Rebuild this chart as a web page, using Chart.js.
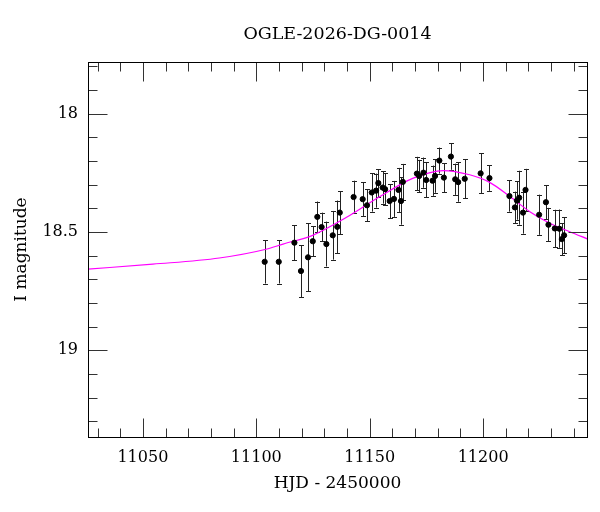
<!DOCTYPE html>
<html>
<head>
<meta charset="utf-8">
<title>OGLE-2026-DG-0014</title>
<script src="https://cdn.jsdelivr.net/npm/chart.js@4.4.1/dist/chart.umd.min.js"></script>
<style>
  html, body { margin: 0; padding: 0; background: #fff; }
  #wrap { width: 600px; height: 512px; }
</style>
</head>
<body>
<div id="wrap"><canvas id="lightcurve"></canvas></div>
<script>
// photometry: HJD - 2450000, I magnitude, error
const hjd = [11103.7, 11109.9, 11116.8, 11119.7, 11122.8, 11124.9, 11126.9, 11128.8, 11130.9, 11133.7,
             11135.7, 11136.8, 11142.9, 11146.9, 11148.8, 11150.9, 11152.8, 11153.8, 11155.7, 11156.8,
             11158.8, 11160.7, 11162.7, 11163.8, 11164.6, 11170.8, 11171.8, 11173.7, 11174.9, 11177.7,
             11178.8, 11180.7, 11182.7, 11185.8, 11187.7, 11189.0, 11191.9, 11198.9, 11202.8, 11211.6,
             11214.0, 11214.9, 11215.9, 11217.6, 11218.7, 11224.7, 11227.7, 11228.8, 11231.6, 11233.6,
             11234.7, 11235.7];
const imag = [18.626, 18.626, 18.545, 18.665, 18.607, 18.539, 18.436, 18.479, 18.551, 18.514,
              18.478, 18.418, 18.352, 18.361, 18.387, 18.333, 18.325, 18.293, 18.312, 18.319,
              18.369, 18.360, 18.322, 18.369, 18.288, 18.253, 18.263, 18.249, 18.280, 18.283,
              18.263, 18.198, 18.270, 18.181, 18.277, 18.289, 18.275, 18.252, 18.272, 18.348,
              18.396, 18.367, 18.355, 18.418, 18.322, 18.427, 18.374, 18.469, 18.485, 18.486,
              18.530, 18.514];
const ierr = [0.092, 0.092, 0.074, 0.110, 0.144, 0.063, 0.065, 0.061, 0.095, 0.103,
              0.111, 0.091, 0.069, 0.071, 0.068, 0.081, 0.072, 0.059, 0.068, 0.068,
              0.072, 0.076, 0.093, 0.100, 0.076, 0.071, 0.068, 0.064, 0.074, 0.064,
              0.071, 0.055, 0.061, 0.056, 0.066, 0.083, 0.083, 0.085, 0.054, 0.066,
              0.067, 0.081, 0.114, 0.089, 0.089, 0.085, 0.072, 0.071, 0.079, 0.081,
              0.068, 0.076];

// model light curve
const modelHjd = [11025.8, 11054.4, 11083.7, 11104.3, 11111.8, 11125.1, 11139.8, 11154.5, 11169.2, 11182.4,
                  11194.1, 11202.9, 11211.8, 11220.6, 11229.4, 11238.2, 11246.2];
const modelMag = [18.657, 18.636, 18.610, 18.573, 18.551, 18.513, 18.438, 18.350, 18.272, 18.240,
                  18.258, 18.290, 18.350, 18.414, 18.463, 18.499, 18.530];

const xMajor = [11050, 11100, 11150, 11200];
const xMinor = [11030, 11040, 11060, 11070, 11080, 11090, 11110, 11120, 11130, 11140,
                11160, 11170, 11180, 11190, 11210, 11220, 11230, 11240];
const yMajor = [18, 18.5, 19];
const yMinor = [17.8, 17.9, 18.1, 18.2, 18.3, 18.4, 18.6, 18.7, 18.8, 18.9, 19.1, 19.2, 19.3];

const serif = 'DejaVu Serif';

// error bars under the points
const errorBars = {
  id: 'errorBars',
  beforeDatasetsDraw(chart) {
    const { ctx, chartArea: a, scales: { x, y } } = chart;
    ctx.save();
    ctx.beginPath();
    ctx.rect(a.left, a.top, a.right - a.left, a.bottom - a.top);
    ctx.clip();
    ctx.strokeStyle = '#222';
    ctx.lineWidth = 1;
    ctx.beginPath();
    hjd.forEach((d, i) => {
      const px = Math.round(x.getPixelForValue(d)) + 0.5;
      const y1 = y.getPixelForValue(imag[i] - ierr[i]);
      const y2 = y.getPixelForValue(imag[i] + ierr[i]);
      ctx.moveTo(px, y1); ctx.lineTo(px, y2);
      ctx.moveTo(px - 2.5, Math.round(y1) + 0.5); ctx.lineTo(px + 2.5, Math.round(y1) + 0.5);
      ctx.moveTo(px - 2.5, Math.round(y2) + 0.5); ctx.lineTo(px + 2.5, Math.round(y2) + 0.5);
    });
    ctx.stroke();
    ctx.restore();
  }
};

// box frame with inward ticks on all four sides
const frameTicks = {
  id: 'frameTicks',
  afterDraw(chart) {
    const { ctx, chartArea: a, scales: { x, y } } = chart;
    const l = Math.round(a.left) + 0.5, r = Math.round(a.right) + 0.5;
    const t = Math.round(a.top) + 0.5, b = Math.round(a.bottom) + 0.5;
    ctx.save();
    ctx.lineWidth = 1;
    ctx.strokeStyle = '#333';
    ctx.beginPath();
    const xt = (v, len) => {
      const px = Math.round(x.getPixelForValue(v)) + 0.5;
      ctx.moveTo(px, b); ctx.lineTo(px, b - len);
      ctx.moveTo(px, t); ctx.lineTo(px, t + len);
    };
    const yt = (v, len) => {
      const py = Math.round(y.getPixelForValue(v)) + 0.5;
      ctx.moveTo(l, py); ctx.lineTo(l + len, py);
      ctx.moveTo(r, py); ctx.lineTo(r - len, py);
    };
    xMajor.forEach(v => xt(v, 19));
    xMinor.forEach(v => xt(v, 9));
    yMajor.forEach(v => yt(v, 19));
    yMinor.forEach(v => yt(v, 9));
    ctx.stroke();
    ctx.strokeStyle = '#000';
    ctx.strokeRect(l, t, r - l, b - t);
    ctx.restore();
  }
};

new Chart(document.getElementById('lightcurve'), {
  type: 'scatter',
  data: {
    datasets: [
      {
        label: 'OGLE I',
        data: hjd.map((d, i) => ({ x: d, y: imag[i] })),
        backgroundColor: '#000',
        borderColor: '#000',
        pointRadius: 2.6,
        pointHoverRadius: 2.6,
        order: 0
      },
      {
        label: 'model',
        data: modelHjd.map((d, i) => ({ x: d, y: modelMag[i] })),
        showLine: true,
        borderColor: '#ff00ff',
        borderWidth: 1.2,
        pointRadius: 0,
        cubicInterpolationMode: 'monotone',
        order: 1
      }
    ]
  },
  options: {
    responsive: true,
    maintainAspectRatio: false,
    animation: false,
    layout: { padding: { left: 0, right: 13, top: 0, bottom: 0 } },
    plugins: {
      legend: { display: false },
      tooltip: { enabled: false },
      title: {
        display: true,
        fullSize: false,
        text: 'OGLE-2026-DG-0014',
        color: '#000',
        font: { family: serif, size: 17.5, weight: 'normal' },
        padding: { top: 24, bottom: 17 }
      }
    },
    scales: {
      x: {
        type: 'linear',
        min: 11025.8,
        max: 11245.8,
        afterBuildTicks: s => { s.ticks = xMajor.map(v => ({ value: v })); },
        afterFit: s => { s.height = 75; },
        grid: { display: false, drawTicks: false },
        border: { display: false },
        ticks: {
          color: '#000',
          padding: 11,
          maxRotation: 0,
          font: { family: serif, size: 16 },
          callback: v => String(v)
        },
        title: {
          display: true,
          text: 'HJD - 2450000',
          color: '#000',
          font: { family: serif, size: 17 },
          padding: { top: 0, bottom: 18 }
        }
      },
      y: {
        type: 'linear',
        reverse: true,
        min: 17.781,
        max: 19.367,
        afterBuildTicks: s => { s.ticks = yMajor.map(v => ({ value: v })); },
        afterFit: s => { s.width = 88; },
        grid: { display: false, drawTicks: false },
        border: { display: false },
        ticks: {
          color: '#000',
          padding: 10,
          font: { family: serif, size: 16 },
          callback: v => String(v)
        },
        title: {
          display: true,
          text: 'I magnitude',
          color: '#000',
          font: { family: serif, size: 17 },
          padding: { top: 11, bottom: 0 }
        }
      }
    }
  },
  plugins: [errorBars, frameTicks]
});
</script>
</body>
</html>
